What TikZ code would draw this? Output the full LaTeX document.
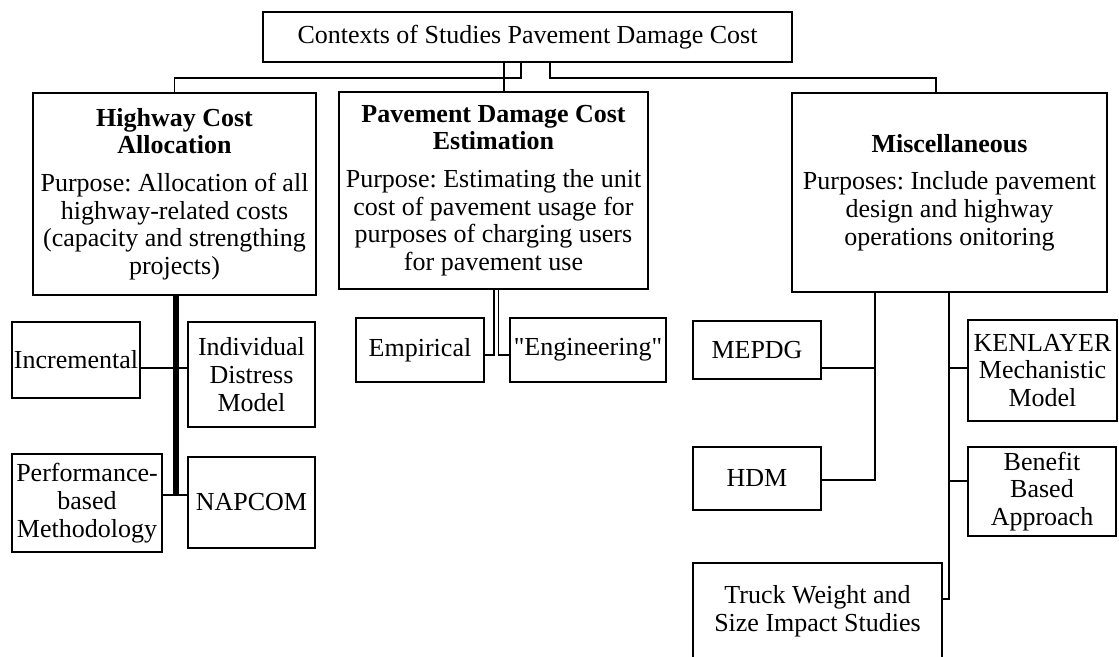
\documentclass[tikz,border=0pt]{standalone}
\usepackage{fontspec}
\setmainfont{Liberation Serif}
\newfontfamily\rawserif{Liberation Serif}
\frenchspacing
\begin{document}
\begin{tikzpicture}[x=1pt,y=-1pt,
  box/.style={draw, line width=1.4pt, inner sep=0pt, align=center,
    font=\fontsize{26}{27.7}\selectfont\frenchspacing},
  conn/.style={line width=1.4pt},
  trunk/.style={line width=6pt},
]
\fill[white] (0,0) rectangle (1119,656);
\useasboundingbox (0,0) rectangle (1119,656);

% main boxes
\node[box, minimum width=529pt, minimum height=50pt] (top) at (527.5,37)
  {Contexts of Studies Pavement Damage Cost};
\node[box, minimum width=283pt, minimum height=202pt] (hw) at (174.5,194)
  {\textbf{Highway Cost}\\\textbf{Allocation}\\[10pt]Purpose: Allocation of all\\highway-related costs\\(capacity and strengthing\\projects)};
\node[box, minimum width=309pt, minimum height=197pt] (pd) at (493.5,190.5)
  {\textbf{Pavement Damage Cost}\\\textbf{Estimation}\\[10pt]Purpose: Estimating the unit\\cost of pavement usage for\\purposes of charging users\\for pavement use};
\node[box, minimum width=315pt, minimum height=199pt] (misc) at (949.5,192.5)
  {\textbf{Miscellaneous}\\[10pt]Purposes: Include pavement\\design and highway\\operations onitoring};

% children
\node[box, minimum width=128pt, minimum height=76pt] (inc) at (76,360) {Incremental};
\node[box, minimum width=127pt, minimum height=105pt] (ind) at (251.5,374.5) {Individual\\Distress\\Model};
\node[box, minimum width=150pt, minimum height=98pt] (perf) at (87,503) {Performance-\\based\\Methodology};
\node[box, minimum width=127pt, minimum height=91pt] (nap) at (251.5,502.5) {NAPCOM};
\node[box, minimum width=128pt, minimum height=64pt] (emp) at (420,350) {Empirical};
\node[box, minimum width=156pt, minimum height=64pt] (eng) at (588,350) {{\rawserif"}Engineering{\rawserif"}};
\node[box, minimum width=128pt, minimum height=58pt] (mep) at (757,350) {MEPDG};
\node[box, minimum width=128pt, minimum height=63pt] (hdm) at (757,478.5) {HDM};
\node[box, minimum width=149pt, minimum height=101pt] (ken) at (1042.5,370.5) {KENLAYER\\Mechanistic\\Model};
\node[box, minimum width=148pt, minimum height=89pt] (ben) at (1042,491.5) {Benefit\\Based\\Approach};
\node[box, minimum width=249pt, minimum height=97pt] (truck) at (817.5,611.5) {Truck Weight and\\Size Impact Studies};

% helper coordinates
\coordinate (tA) at (521,0);
\coordinate (tB) at (504,0);
\coordinate (tC) at (550,0);
\coordinate (tD) at (936,0);
\coordinate (tY) at (0,78);
\coordinate (hX) at (176,0);
\coordinate (yA) at (0,368);
\coordinate (yB) at (0,495);
\coordinate (mA) at (494,0);
\coordinate (mB) at (498.5,0);
\coordinate (yC) at (0,355);
\coordinate (rL) at (875,0);
\coordinate (rR) at (949,0);
\coordinate (yD) at (0,368);
\coordinate (yE) at (0,480);
\coordinate (yF) at (0,481);
\coordinate (yG) at (0,599);

% top connectors
\draw[conn] (top.south -| tA) |- (hw.north |- tY) -- (hw.north);
\draw[conn] (top.south -| tB) -- (pd.north -| tB);
\draw[conn] (top.south -| tC) |- (tD |- tY) -- (misc.north -| tD);

% highway children
\draw[trunk] (hw.south -| hX) -- (hX |- yB);
\draw[conn] (hw.south -| hX) |- (inc.east |- yA);
\draw[conn] (hw.south -| hX) |- (ind.west |- yA);
\draw[conn] (hw.south -| hX) |- (perf.east |- yB);
\draw[conn] (hw.south -| hX) |- (nap.west |- yB);

% pavement damage children
\draw[conn] (pd.south -| mA) |- (emp.east |- yC);
\draw[conn] (pd.south -| mB) |- (eng.west |- yC);

% misc children
\draw[conn] (misc.south -| rL) |- (mep.east |- yD);
\draw[conn] (misc.south -| rL) |- (hdm.east |- yE);
\draw[conn] (misc.south -| rR) |- (ken.west |- yD);
\draw[conn] (misc.south -| rR) |- (ben.west |- yF);
\draw[conn] (misc.south -| rR) |- (truck.east |- yG);
\end{tikzpicture}
\end{document}
